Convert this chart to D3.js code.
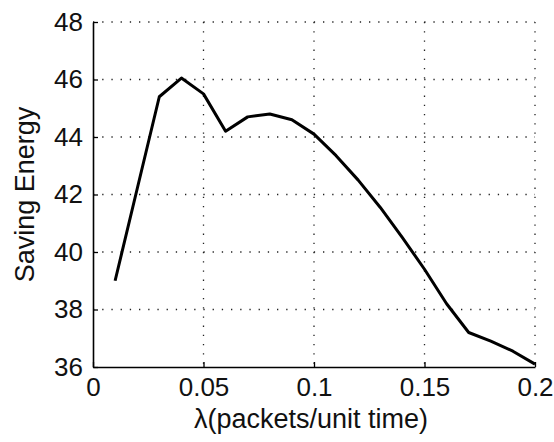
<!DOCTYPE html>
<html>
<head>
<meta charset="utf-8">
<script src="https://cdn.jsdelivr.net/npm/d3@7"></script>
<style>
  body { margin: 0; background: #fff; }
  svg text { font-family: "Liberation Sans", Arial, sans-serif; fill: #111; }
</style>
</head>
<body>
<div class="js-d3"></div>
<script>
const lambda = [0.01, 0.02, 0.03, 0.04, 0.05, 0.06, 0.07, 0.08, 0.09, 0.1,
  0.11, 0.12, 0.13, 0.14, 0.15, 0.16, 0.17, 0.18, 0.19, 0.2];
const savingEnergy = [39.0, 42.2, 45.4, 46.05, 45.5, 44.2, 44.7, 44.8, 44.6, 44.1,
  43.35, 42.5, 41.55, 40.5, 39.4, 38.2, 37.2, 36.9, 36.55, 36.1];
const xTicks = [0, 0.05, 0.1, 0.15, 0.2];
const yTicks = [36, 38, 40, 42, 44, 46, 48];

const width = 554;
const height = 442;
const margin = { top: 22, right: 19, bottom: 75, left: 93 };
const w = width - margin.left - margin.right;
const h = height - margin.top - margin.bottom;
const fontSize = 26;

const svg = d3
  .select(".js-d3")
  .append("svg")
  .attr("width", width)
  .attr("height", height)
  .append("g")
  .attr("transform", `translate(${margin.left}, ${margin.top})`);

const x = d3.scaleLinear().domain([0, 0.2]).range([0, w]);
const y = d3.scaleLinear().domain([36, 48]).range([h, 0]);

// dotted grid
const grid = svg.append("g").attr("class", "grid");
grid
  .selectAll("line.gx")
  .data(xTicks.slice(1))
  .enter()
  .append("line")
  .attr("x1", (d) => x(d))
  .attr("x2", (d) => x(d))
  .attr("y1", 0)
  .attr("y2", h);
grid
  .selectAll("line.gy")
  .data(yTicks.slice(1))
  .enter()
  .append("line")
  .attr("x1", 0)
  .attr("x2", w)
  .attr("y1", (d) => y(d))
  .attr("y2", (d) => y(d));
grid
  .selectAll("line")
  .attr("stroke", "#222")
  .attr("stroke-width", 1.3)
  .attr("stroke-dasharray", "1.3,7.9");

// axes with inward ticks
const xAxis = svg
  .append("g")
  .attr("transform", `translate(0, ${h})`)
  .call(d3.axisBottom(x).tickValues(xTicks).tickSizeInner(-5).tickSizeOuter(0).tickPadding(10).tickFormat(d3.format("")));
const yAxis = svg
  .append("g")
  .call(d3.axisLeft(y).tickValues(yTicks).tickSizeInner(-5).tickSizeOuter(0).tickPadding(10));

[xAxis, yAxis].forEach((a) => {
  a.select(".domain").attr("stroke", "#000").attr("stroke-width", 1.6);
  a.selectAll(".tick line").attr("stroke", "#000").attr("stroke-width", 1.3);
  a.selectAll("text")
    .attr("font-size", fontSize)
    .attr("font-family", "Liberation Sans, Arial, sans-serif")
    .attr("fill", "#111");
});
xAxis.selectAll("text").attr("dy", "0.72em");

// data line
const line = d3
  .line()
  .x((d, i) => x(lambda[i]))
  .y((d) => y(d));

svg
  .append("path")
  .datum(savingEnergy)
  .attr("fill", "none")
  .attr("stroke", "#000")
  .attr("stroke-width", 3)
  .attr("stroke-linejoin", "round")
  .attr("d", line);

// labels
svg
  .append("text")
  .attr("x", w / 2 - 3)
  .attr("y", h + 61)
  .attr("text-anchor", "middle")
  .attr("font-size", fontSize + 1)
  .text("λ(packets/unit time)");

svg
  .append("text")
  .attr("transform", `translate(${34 - margin.left}, ${h / 2}) rotate(-90)`)
  .attr("text-anchor", "middle")
  .attr("font-size", fontSize + 1)
  .text("Saving Energy");
</script>
</body>
</html>
